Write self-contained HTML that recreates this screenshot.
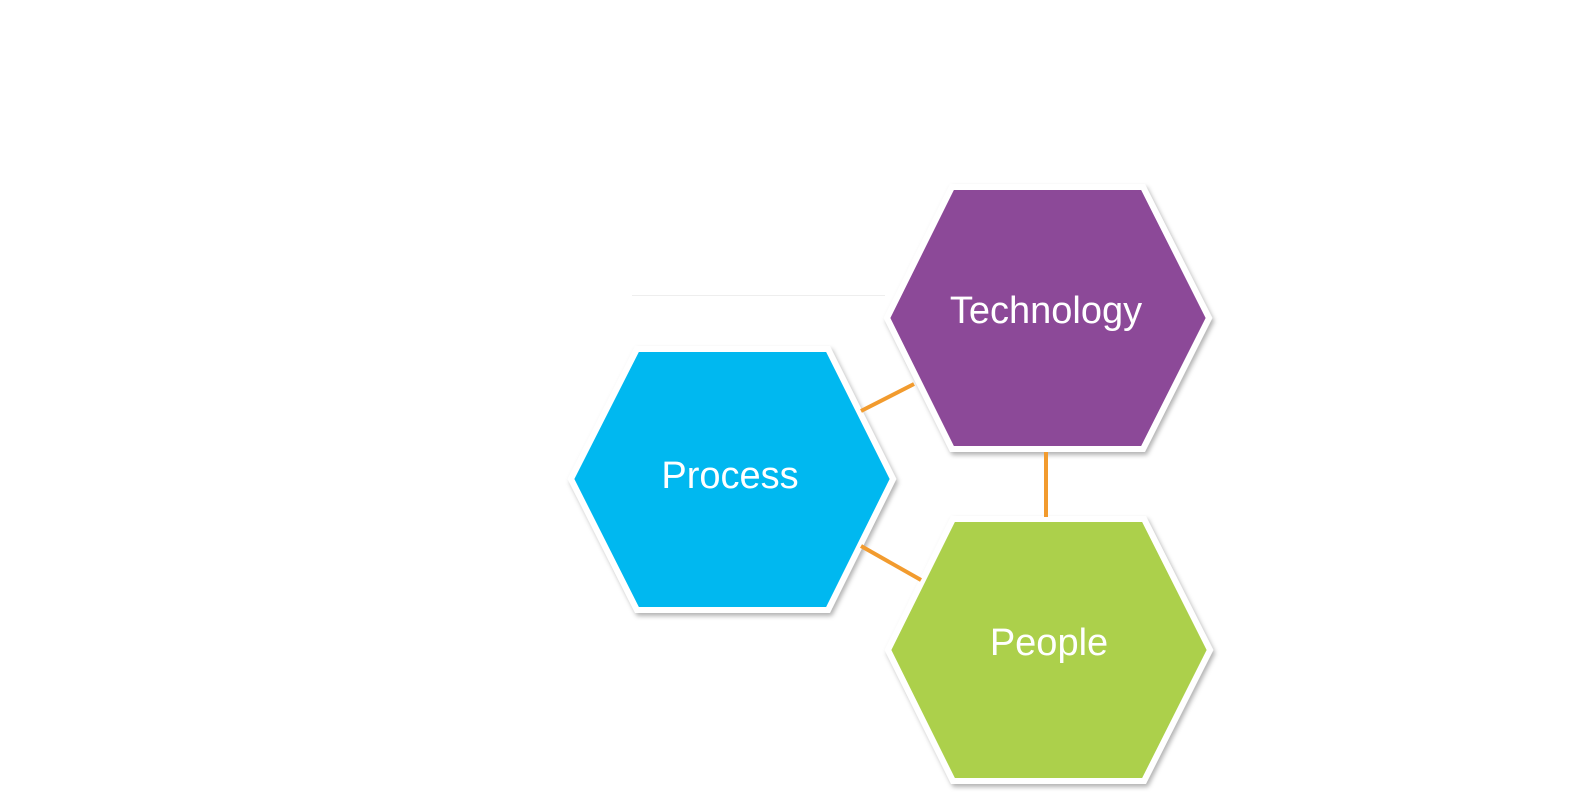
<!DOCTYPE html>
<html><head><meta charset="utf-8"><style>html,body{margin:0;padding:0;background:#fff;width:1581px;height:802px;overflow:hidden}</style></head>
<body>
<svg width="1581" height="802" viewBox="0 0 1581 802" xmlns="http://www.w3.org/2000/svg">
<defs>
<filter id="sh" x="-10%" y="-10%" width="120%" height="120%">
<feDropShadow dx="2" dy="3" stdDeviation="2.5" flood-color="#000" flood-opacity="0.3"/>
</filter>
</defs>
<line x1="632" y1="295.5" x2="885" y2="295.5" stroke="#eeeeee" stroke-width="1"/>
<g stroke="#fff" stroke-width="6" stroke-linejoin="miter" filter="url(#sh)">
<polygon points="637,349 828,349 893,479 828,610 637,610 571,479" fill="#00b8f0"/>
<polygon points="952,187 1143,187 1209,318 1143,449 952,449 887,318" fill="#8c4a98"/>
<polygon points="953,519 1144,519 1210,650 1144,781 953,781 888,650" fill="#acd04c"/>
</g>
<g stroke="#f29b2e" stroke-width="4">
<line x1="861" y1="411" x2="914" y2="384"/>
<line x1="1046" y1="452" x2="1046" y2="517"/>
<line x1="861" y1="546" x2="921" y2="580"/>
</g>
<g font-family="Liberation Sans, sans-serif" font-size="38" fill="#fff" text-anchor="middle">
<text x="730" y="488">Process</text>
<text x="1046" y="323">Technology</text>
<text x="1049" y="655">People</text>
</g>
</svg>
</body></html>
